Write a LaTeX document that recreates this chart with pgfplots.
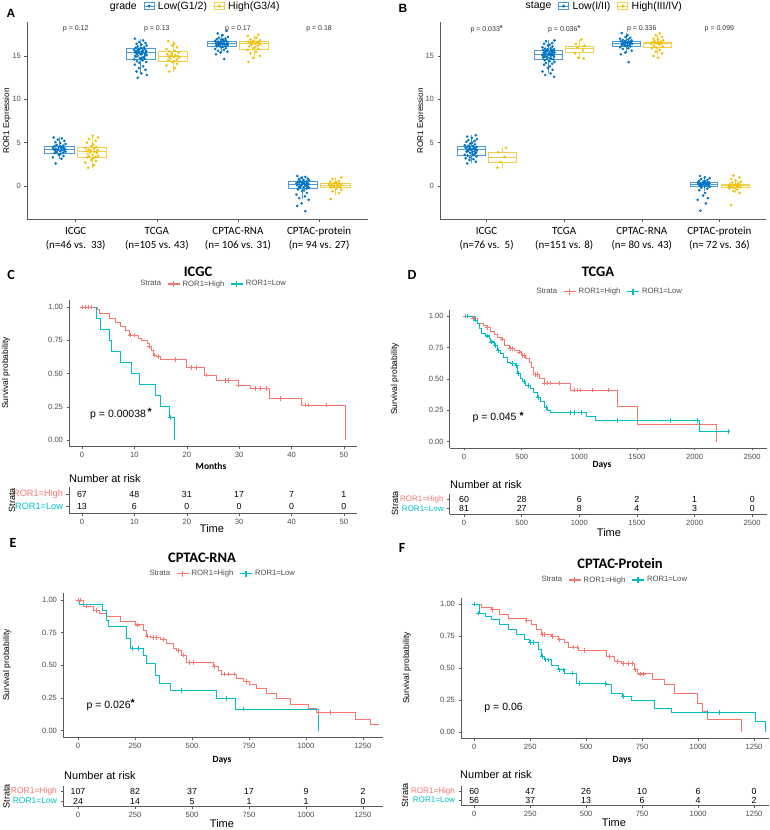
\documentclass[border=0pt]{standalone}
\usepackage{fontspec}
\setmainfont{Liberation Sans}
\newfontfamily\cali{Carlito}
\usepackage{pgfplots}
\pgfplotsset{compat=1.18}
\usepgfplotslibrary{statistics}
\definecolor{jblue}{HTML}{0073C2}
\definecolor{jyel}{HTML}{EFC000}
\definecolor{bblue}{HTML}{4A9BDA}
\definecolor{byel}{HTML}{F2CF4A}
\definecolor{kmred}{HTML}{F8766D}
\definecolor{kmcyan}{HTML}{00BFC4}
\definecolor{axgray}{HTML}{5A5A5A}
\definecolor{tgray}{HTML}{4D4D4D}
\definecolor{ptext}{HTML}{333333}
\newcommand{\fs}[2]{\fontsize{#1}{#2}\selectfont}

\pgfplotsset{
  gg/.style={scale only axis, clip=false, anchor=south west,
    axis x line*=bottom, axis y line*=left,
    axis line style={draw=axgray, line width=0.6pt},
    tick style={draw=axgray, line width=0.5pt}, major tick length=2.5pt, tick align=outside,
    ticklabel style={font=\fs{7.6}{9}, text=tgray},
    /pgf/number format/assume math mode=true, /pgf/number format/1000 sep={}, scaled ticks=false},
  bxax/.style={gg, height=197pt, xmin=0.4, xmax=4.6, ymin=-3.81, ymax=18.92,
    xtick={1,2,3,4}, ytick={0,5,10,15},
    xticklabel style={font=\cali\fs{11}{14}, text=black, align=center, yshift=-2pt},
    legend style={draw=none, fill=none, legend columns=-1, font=\fs{10.5}{12}, anchor=center,
      /tikz/every odd column/.append style={column sep=1.5pt},
      /tikz/every even column/.append style={column sep=5pt}}},
  kmax/.style={gg, ymin=-0.05, ymax=1.05, ytick={0,0.25,0.5,0.75,1},
    yticklabels={0.00,0.25,0.50,0.75,1.00},
    legend style={draw=none, fill=none, legend columns=-1, font=\fs{7.7}{9}, text=tgray, anchor=center,
      /tikz/every odd column/.append style={column sep=0.5pt},
      /tikz/every even column/.append style={column sep=4pt}}},
  rtax/.style={gg, ymin=0.4, ymax=2.6, ytick={1,2},
    yticklabels={\textcolor{kmcyan}{ROR1=Low},\textcolor{kmred}{ROR1=High}}},
  bkey/.style 2 args={legend image code/.code={\draw[#1,line width=0.7pt] (0pt,-3.3pt) rectangle (10pt,3.3pt) (0pt,0pt) -- (10pt,0pt); \fill[#2] (5pt,0pt) circle (1.3pt);}},
  kred/.style={legend image code/.code={\draw[kmred,line width=1.1pt] (0pt,0pt) -- (12pt,0pt) (6pt,-2.8pt) -- (6pt,2.8pt);}},
  kcyan/.style={legend image code/.code={\draw[kmcyan,line width=1.1pt] (0pt,0pt) -- (12pt,0pt) (6pt,-2.8pt) -- (6pt,2.8pt);}},
  rnum/.style={draw=none, mark=none, forget plot, nodes near coords, point meta=explicit symbolic,
    every node near coord/.append style={anchor=center, font=\fs{8.8}{9}, text=black, inner sep=0pt}},
}

% jittered points: position, colour, rows "dx value"
\newcommand{\jit}[3]{\addplot[only marks, mark=*, mark size=1.1pt, #2, forget plot]
  table[row sep=\\, x expr=\thisrow{d}+#1, y=v] {d v\\ #3};}
% box: position, colour, whisker low, q1, median, q3, whisker high
\newcommand{\bx}[7]{\addplot[#2, line width=0.8pt, forget plot, boxplot prepared={draw direction=y, draw position=#1,
  lower whisker=#3, lower quartile=#4, median=#5, upper quartile=#6, upper whisker=#7,
  box extend=0.36, whisker extend=0}] coordinates {};}
\newcommand{\km}[2]{\addplot[const plot, #1, line width=0.85pt, forget plot] coordinates {#2};}
\newcommand{\cens}[2]{\addplot[only marks, mark=+, mark size=2.3pt, #1, mark options={line width=0.7pt}, forget plot] coordinates {#2};}
\newcommand{\kmleg}{\addlegendimage{empty legend}\addlegendentry{Strata}
  \addlegendimage{kred}\addlegendentry{ROR1=High}
  \addlegendimage{kcyan}\addlegendentry{ROR1=Low}}

\begin{document}
\begin{tikzpicture}
\path[use as bounding box] (0pt,0pt) rectangle (769pt,-830pt);

%%%%%%%%%%%%%%%% A
\begin{axis}[bxax, at={(27pt,-219pt)}, width=340.8pt,
  xticklabels={{ICGC\\(n=46 vs.\ \ 33)},{TCGA\\(n=105 vs. 43)},{CPTAC-RNA\\(n= 106 vs. 31)},{CPTAC-protein\\(n= 94 vs. 27)}},
  legend style={at={(0.49,1.081)}}]
\addlegendimage{empty legend}\addlegendentry{grade}
\addlegendimage{bkey={bblue}{jblue}}\addlegendentry{Low(G1/2)}
\addlegendimage{bkey={byel}{jyel}}\addlegendentry{High(G3/4)}
\bx{0.8}{bblue}{3.1}{3.8}{4.2}{4.58}{5.6}
\bx{1.2}{byel}{2.1}{3.35}{4.0}{4.5}{5.8}
\bx{1.8}{bblue}{12.9}{14.6}{15.4}{15.85}{17.0}
\bx{2.2}{byel}{13.2}{14.4}{15.0}{15.5}{16.7}
\bx{2.8}{bblue}{15.4}{16.15}{16.4}{16.7}{17.5}
\bx{3.2}{byel}{14.6}{15.8}{16.45}{16.65}{17.45}
\bx{3.8}{bblue}{-1.5}{-0.3}{0.2}{0.54}{1.15}
\bx{4.2}{byel}{-1.0}{-0.2}{0.04}{0.35}{1.0}
\jit{0.8}{jblue}{-0.07 5.6\\ 0.03 5.5\\ -0.02 5.35\\ 0.06 5.2\\ -0.05 5.05\\ 0.01 4.95\\ 0.075 4.85\\ -0.035 4.75\\ 0.045 4.65\\ -0.06 4.6\\ 0.015 4.55\\ -0.01 4.5\\ 0.05 4.45\\ -0.08 4.4\\ 0.025 4.35\\ -0.045 4.3\\ 0.07 4.28\\ -0.015 4.25\\ -0.07 4.2\\ 0.03 4.15\\ -0.02 4.12\\ 0.06 4.1\\ -0.05 4.05\\ 0.01 4.0\\ 0.075 3.95\\ -0.035 3.9\\ 0.045 3.85\\ -0.06 3.8\\ 0.015 3.7\\ -0.01 3.6\\ 0.05 3.45\\ -0.08 3.3\\ 0.025 3.15\\ -0.045 2.6\\}
\jit{1.2}{jyel}{0.01 5.8\\ 0.075 5.6\\ -0.035 5.4\\ 0.045 5.2\\ -0.06 5.0\\ 0.015 4.8\\ -0.01 4.6\\ 0.05 4.5\\ -0.08 4.4\\ 0.025 4.3\\ -0.045 4.2\\ 0.07 4.15\\ -0.015 4.1\\ -0.07 4.0\\ 0.03 3.95\\ -0.02 3.9\\ 0.06 3.8\\ -0.05 3.7\\ 0.01 3.6\\ 0.075 3.5\\ -0.035 3.4\\ 0.045 3.35\\ -0.06 3.3\\ 0.015 3.2\\ -0.01 3.0\\ 0.05 2.9\\ -0.08 2.7\\ 0.025 2.4\\ -0.045 2.1\\}
\jit{1.8}{jblue}{-0.07 17.0\\ 0.03 16.8\\ -0.02 16.6\\ 0.06 16.5\\ -0.05 16.4\\ 0.01 16.3\\ 0.075 16.2\\ -0.035 16.1\\ 0.045 16.0\\ -0.06 15.95\\ 0.015 15.9\\ -0.01 15.85\\ 0.05 15.8\\ -0.08 15.7\\ 0.025 15.65\\ -0.045 15.6\\ 0.07 15.55\\ -0.015 15.5\\ -0.07 15.45\\ 0.03 15.4\\ -0.02 15.35\\ 0.06 15.3\\ -0.05 15.25\\ 0.01 15.2\\ 0.075 15.1\\ -0.035 15.0\\ 0.045 14.95\\ -0.06 14.9\\ 0.015 14.8\\ -0.01 14.75\\ 0.05 14.7\\ -0.08 14.6\\ 0.025 14.5\\ -0.045 14.4\\ 0.07 14.3\\ -0.015 14.2\\ -0.07 14.0\\ 0.03 13.8\\ -0.02 13.6\\ 0.06 13.4\\ -0.05 13.2\\ 0.01 13.0\\ 0.075 12.8\\ -0.035 12.5\\ 0.02 15.5\\ -0.04 15.3\\ 0.065 15.6\\ -0.065 15.0\\ 0.0 15.2\\ 0.035 14.85\\ -0.025 15.75\\ 0.055 15.15\\ -0.055 15.55\\ 0.005 14.65\\}
\jit{2.2}{jyel}{-0.06 16.7\\ 0.015 16.4\\ -0.01 16.2\\ 0.05 16.0\\ -0.08 15.8\\ 0.025 15.6\\ -0.045 15.5\\ 0.07 15.4\\ -0.015 15.3\\ -0.07 15.2\\ 0.03 15.1\\ -0.02 15.05\\ 0.06 15.0\\ -0.05 14.95\\ 0.01 14.9\\ 0.075 14.8\\ -0.035 14.7\\ 0.045 14.6\\ -0.06 14.5\\ 0.015 14.4\\ -0.01 14.3\\ 0.05 14.1\\ -0.08 13.9\\ 0.025 13.6\\ -0.045 13.2\\}
\jit{2.8}{jblue}{0.06 17.9\\ -0.05 17.6\\ 0.01 17.4\\ 0.075 17.2\\ -0.035 17.1\\ 0.045 17.0\\ -0.06 16.95\\ 0.015 16.9\\ -0.01 16.85\\ 0.05 16.8\\ -0.08 16.75\\ 0.025 16.7\\ -0.045 16.65\\ 0.07 16.6\\ -0.015 16.55\\ -0.07 16.5\\ 0.03 16.45\\ -0.02 16.4\\ 0.06 16.4\\ -0.05 16.35\\ 0.01 16.3\\ 0.075 16.25\\ -0.035 16.2\\ 0.045 16.15\\ -0.06 16.1\\ 0.015 16.05\\ -0.01 16.0\\ 0.05 15.9\\ -0.08 15.8\\ 0.025 15.7\\ -0.045 15.6\\ 0.07 15.5\\ -0.015 15.4\\ -0.07 15.2\\ 0.03 14.65\\ 0.0 16.5\\ 0.04 16.35\\ -0.04 16.6\\ 0.065 16.45\\ -0.065 16.25\\ 0.02 16.7\\ -0.025 16.3\\}
\jit{3.2}{jyel}{0.05 17.45\\ -0.08 17.3\\ 0.025 17.1\\ -0.045 16.9\\ 0.07 16.8\\ -0.015 16.7\\ -0.07 16.65\\ 0.03 16.6\\ -0.02 16.55\\ 0.06 16.5\\ -0.05 16.45\\ 0.01 16.4\\ 0.075 16.35\\ -0.035 16.3\\ 0.045 16.2\\ -0.06 16.1\\ 0.015 16.0\\ -0.01 15.9\\ 0.05 15.8\\ -0.08 15.7\\ 0.025 15.5\\ -0.045 15.3\\ 0.07 15.0\\ -0.015 14.8\\ -0.07 14.3\\}
\jit{3.8}{jblue}{-0.07 1.15\\ 0.03 1.05\\ -0.02 0.95\\ 0.06 0.85\\ -0.05 0.8\\ 0.01 0.7\\ 0.075 0.65\\ -0.035 0.6\\ 0.045 0.55\\ -0.06 0.5\\ 0.015 0.45\\ -0.01 0.4\\ 0.05 0.35\\ -0.08 0.3\\ 0.025 0.25\\ -0.045 0.2\\ 0.07 0.2\\ -0.015 0.15\\ -0.07 0.1\\ 0.03 0.05\\ -0.02 0.0\\ 0.06 -0.05\\ -0.05 -0.1\\ 0.01 -0.15\\ 0.075 -0.2\\ -0.035 -0.25\\ 0.045 -0.3\\ -0.06 -0.4\\ 0.015 -0.5\\ -0.01 -0.6\\ 0.05 -0.8\\ -0.08 -1.0\\ 0.025 -1.2\\ -0.045 -1.4\\ 0.07 -1.6\\ -0.015 -2.0\\ -0.07 -2.3\\ 0.03 -2.9\\ 0.0 0.3\\ 0.04 0.1\\ -0.04 0.45\\ 0.065 0.25\\ -0.03 -0.05\\}
\jit{4.2}{jyel}{0.075 1.0\\ -0.035 0.8\\ 0.045 0.6\\ -0.06 0.5\\ 0.015 0.4\\ -0.01 0.35\\ 0.05 0.3\\ -0.08 0.25\\ 0.025 0.2\\ -0.045 0.15\\ 0.07 0.1\\ -0.015 0.05\\ -0.07 0.0\\ 0.03 -0.05\\ -0.02 -0.1\\ 0.06 -0.15\\ -0.05 -0.2\\ 0.01 -0.3\\ 0.075 -0.45\\ -0.035 -0.6\\ 0.045 -0.8\\ -0.06 -1.5\\}
\node[font=\fs{7}{8}, text=ptext] at (axis cs:1,18.1) {p = 0.12};
\node[font=\fs{7}{8}, text=ptext] at (axis cs:2,18.1) {p = 0.13};
\node[font=\fs{7}{8}, text=ptext] at (axis cs:3,18.1) {p = 0.17};
\node[font=\fs{7}{8}, text=ptext] at (axis cs:4,18.1) {p = 0.18};
\end{axis}

%%%%%%%%%%%%%%%% B
\begin{axis}[bxax, at={(440pt,-219pt)}, width=326pt,
  xticklabels={{ICGC\\(n=76 vs.\ \ 5)},{TCGA\\(n=151 vs. 8)},{CPTAC-RNA\\(n= 80 vs. 43)},{CPTAC-protein\\(n= 72 vs. 36)}},
  legend style={at={(0.5,1.081)}}]
\addlegendimage{empty legend}\addlegendentry{stage}
\addlegendimage{bkey={bblue}{jblue}}\addlegendentry{Low(I/II)}
\addlegendimage{bkey={byel}{jyel}}\addlegendentry{High(III/IV)}
\bx{0.8}{bblue}{2.6}{3.54}{4.2}{4.58}{5.85}
\bx{1.2}{byel}{2.1}{2.77}{3.27}{3.9}{4.4}
\bx{1.8}{bblue}{13.0}{14.6}{15.2}{15.7}{16.8}
\bx{2.2}{byel}{14.7}{15.45}{15.85}{16.15}{16.9}
\bx{2.8}{bblue}{15.3}{16.1}{16.5}{16.7}{17.6}
\bx{3.2}{byel}{15.1}{16.0}{16.5}{16.6}{17.4}
\bx{3.8}{bblue}{-0.6}{-0.04}{0.23}{0.38}{1.0}
\bx{4.2}{byel}{-0.8}{-0.19}{0.04}{0.23}{0.8}
\jit{0.8}{jblue}{0.06 5.85\\ -0.05 5.7\\ 0.01 5.55\\ 0.075 5.4\\ -0.035 5.3\\ 0.045 5.2\\ -0.06 5.1\\ 0.015 5.0\\ -0.01 4.9\\ 0.05 4.8\\ -0.08 4.7\\ 0.025 4.6\\ -0.045 4.55\\ 0.07 4.5\\ -0.015 4.45\\ -0.07 4.4\\ 0.03 4.35\\ -0.02 4.3\\ 0.06 4.25\\ -0.05 4.2\\ 0.01 4.15\\ 0.075 4.1\\ -0.035 4.05\\ 0.045 4.0\\ -0.06 3.95\\ 0.015 3.9\\ -0.01 3.8\\ 0.05 3.7\\ -0.08 3.6\\ 0.025 3.55\\ -0.045 3.5\\ 0.07 3.4\\ -0.015 3.3\\ -0.07 3.2\\ 0.03 3.1\\ -0.02 3.0\\ 0.06 2.8\\ -0.05 2.6\\ 0.0 4.2\\ 0.04 4.4\\ -0.04 4.0\\ 0.065 3.85\\ -0.025 4.65\\ 0.02 3.65\\}
\jit{1.2}{jyel}{0.05 4.4\\ -0.05 3.9\\ 0.03 3.35\\ -0.02 2.77\\ -0.06 2.1\\}
\jit{1.8}{jblue}{0.075 16.8\\ -0.035 16.7\\ 0.045 16.5\\ -0.06 16.4\\ 0.015 16.3\\ -0.01 16.2\\ 0.05 16.1\\ -0.08 16.0\\ 0.025 15.9\\ -0.045 15.85\\ 0.07 15.8\\ -0.015 15.75\\ -0.07 15.7\\ 0.03 15.65\\ -0.02 15.6\\ 0.06 15.55\\ -0.05 15.5\\ 0.01 15.45\\ 0.075 15.4\\ -0.035 15.35\\ 0.045 15.3\\ -0.06 15.25\\ 0.015 15.2\\ -0.01 15.15\\ 0.05 15.1\\ -0.08 15.05\\ 0.025 15.0\\ -0.045 14.95\\ 0.07 14.9\\ -0.015 14.85\\ -0.07 14.8\\ 0.03 14.7\\ -0.02 14.65\\ 0.06 14.6\\ -0.05 14.5\\ 0.01 14.4\\ 0.075 14.3\\ -0.035 14.2\\ 0.045 14.1\\ -0.06 14.0\\ 0.015 13.8\\ -0.01 13.6\\ 0.05 13.4\\ -0.08 13.2\\ 0.025 13.0\\ -0.045 12.8\\ 0.07 12.6\\ 0.0 15.2\\ 0.04 15.5\\ -0.04 15.0\\ 0.065 15.15\\ -0.065 15.35\\ 0.02 14.75\\ -0.025 15.6\\ 0.035 15.25\\ -0.055 14.9\\ 0.055 15.7\\}
\jit{2.2}{jyel}{0.02 16.9\\ -0.05 16.4\\ 0.06 16.2\\ -0.03 16.0\\ 0.04 15.65\\ -0.06 15.3\\ -0.02 14.8\\ 0.05 14.7\\}
\jit{2.8}{jblue}{-0.06 17.65\\ 0.015 17.4\\ -0.01 17.2\\ 0.05 17.1\\ -0.08 17.0\\ 0.025 16.9\\ -0.045 16.85\\ 0.07 16.8\\ -0.015 16.75\\ -0.07 16.7\\ 0.03 16.65\\ -0.02 16.6\\ 0.06 16.55\\ -0.05 16.5\\ 0.01 16.45\\ 0.075 16.4\\ -0.035 16.35\\ 0.045 16.3\\ -0.06 16.25\\ 0.015 16.2\\ -0.01 16.15\\ 0.05 16.1\\ -0.08 16.0\\ 0.025 15.9\\ -0.045 15.8\\ 0.07 15.6\\ -0.015 15.4\\ -0.07 15.2\\ 0.03 14.3\\ 0.0 16.5\\ 0.04 16.6\\ -0.04 16.4\\ 0.065 16.7\\ -0.025 16.3\\ 0.02 16.55\\}
\jit{3.2}{jyel}{0.03 17.6\\ -0.02 17.4\\ 0.06 17.2\\ -0.05 17.0\\ 0.01 16.9\\ 0.075 16.8\\ -0.035 16.7\\ 0.045 16.65\\ -0.06 16.6\\ 0.015 16.55\\ -0.01 16.5\\ 0.05 16.45\\ -0.08 16.4\\ 0.025 16.3\\ -0.045 16.2\\ 0.07 16.1\\ -0.015 16.0\\ -0.07 15.9\\ 0.03 15.7\\ -0.02 15.5\\ 0.06 15.3\\ -0.05 15.0\\ 0.01 14.8\\}
\jit{3.8}{jblue}{-0.05 1.15\\ 0.01 1.0\\ 0.075 0.9\\ -0.035 0.8\\ 0.045 0.7\\ -0.06 0.6\\ 0.015 0.55\\ -0.01 0.5\\ 0.05 0.45\\ -0.08 0.4\\ 0.025 0.35\\ -0.045 0.3\\ 0.07 0.28\\ -0.015 0.25\\ -0.07 0.2\\ 0.03 0.15\\ -0.02 0.1\\ 0.06 0.05\\ -0.05 0.0\\ 0.01 -0.05\\ 0.075 -0.1\\ -0.035 -0.2\\ 0.045 -0.3\\ -0.06 -0.5\\ 0.015 -0.8\\ -0.01 -1.1\\ 0.05 -1.4\\ -0.08 -1.6\\ 0.025 -2.0\\ -0.045 -2.85\\ 0.0 0.3\\ 0.04 0.2\\ -0.04 0.1\\ 0.065 0.4\\}
\jit{4.2}{jyel}{-0.02 1.2\\ 0.06 1.0\\ -0.05 0.8\\ 0.01 0.6\\ 0.075 0.5\\ -0.035 0.4\\ 0.045 0.3\\ -0.06 0.2\\ 0.015 0.15\\ -0.01 0.1\\ 0.05 0.05\\ -0.08 0.0\\ 0.025 -0.05\\ -0.045 -0.1\\ 0.07 -0.15\\ -0.015 -0.2\\ -0.07 -0.3\\ 0.03 -0.4\\ -0.02 -0.6\\ 0.06 -0.8\\ -0.05 -2.2\\}
\node[font=\fs{7}{8}, text=ptext] at (axis cs:1,18.1) {p = 0.033\raisebox{1.5pt}{\textbf{*}}};
\node[font=\fs{7}{8}, text=ptext] at (axis cs:2,18.1) {p = 0.036\raisebox{1.5pt}{\textbf{*}}};
\node[font=\fs{7}{8}, text=ptext] at (axis cs:3,18.1) {p = 0.336};
\node[font=\fs{7}{8}, text=ptext] at (axis cs:4,18.1) {p = 0.099};
\end{axis}

%%%%%%%%%%%%%%%% C
\begin{axis}[kmax, at={(69pt,-446.65pt)}, width=288pt, height=146.3pt, xmin=-2.48, xmax=52.5,
  xtick={0,10,...,50}, legend style={at={(0.5,1.112)}}]
\kmleg
\km{kmred}{(0,1) (3.0,0.982) (3.4,0.952) (5.2,0.915) (6.3,0.882) (7.25,0.857) (8.2,0.827) (9.0,0.789) (10.75,0.764) (11.4,0.752) (12.5,0.727) (12.85,0.702) (13.3,0.677) (13.6,0.639) (14.25,0.627) (14.9,0.606) (19.85,0.546) (23.3,0.489) (25.7,0.446) (29.8,0.414) (32.1,0.388) (35.75,0.313) (41.8,0.263) (50.2,0)}
\km{kmcyan}{(0,1) (2.8,0.917) (3.6,0.833) (5.2,0.75) (5.7,0.667) (7.4,0.583) (9.5,0.5) (10.9,0.417) (14.1,0.333) (15.0,0.25) (16.7,0.167) (17.7,0)}
\cens{kmred}{(0,1) (0.6,1) (1.2,1) (1.8,1) (9.3,0.789) (10.0,0.789) (12.9,0.702) (13.9,0.639) (14.5,0.627) (17.9,0.606) (20.9,0.546) (21.9,0.546) (23.8,0.489) (27.3,0.446) (27.9,0.446) (29.9,0.414) (33.0,0.388) (34.1,0.388) (35.2,0.388) (37.8,0.313) (42.6,0.263) (43.2,0.263) (46.7,0.263)}
\cens{kmcyan}{(16.9,0.167)}
\node[anchor=west, font=\fs{10.5}{12}] at (axis cs:0.9,0.195) {p = 0.00038\,\raisebox{1.5pt}{\textbf{*}}};
\end{axis}
\begin{axis}[rtax, at={(69pt,-513.2pt)}, width=288pt, height=26.4pt, xmin=-2.48, xmax=52.5, xtick={0,10,...,50},
  yticklabel style={font=\fs{9.2}{10}}]
\addplot[rnum] coordinates {(0,2)[67] (10,2)[48] (20,2)[31] (30,2)[17] (40,2)[7] (50,2)[1] (0,1)[13] (10,1)[6] (20,1)[0] (30,1)[0] (40,1)[0] (50,1)[0]};
\end{axis}

%%%%%%%%%%%%%%%% D
\begin{axis}[kmax, at={(449.6pt,-447.8pt)}, width=317pt, height=138.05pt, xmin=-125, xmax=2625,
  xtick={0,500,...,2500}, legend style={at={(0.503,1.13)}}]
\kmleg
\km{kmred}{(0,1) (72,0.981) (116,0.941) (168,0.922) (202,0.906) (231,0.874) (260,0.853) (289,0.826) (324,0.816) (347,0.767) (390,0.741) (434,0.727) (477,0.714) (497,0.687) (535,0.660) (564,0.634) (584,0.594) (601,0.535) (650,0.50) (694,0.465) (919,0.41) (1329,0.278) (1503,0.134) (2191,0)}
\km{kmcyan}{(0,1) (87,0.968) (116,0.94) (130,0.9) (150,0.86) (188,0.842) (217,0.82) (231,0.794) (260,0.767) (289,0.727) (318,0.70) (341,0.674) (376,0.634) (405,0.62) (448,0.607) (462,0.54) (486,0.505) (506,0.479) (535,0.447) (572,0.42) (601,0.393) (636,0.353) (665,0.318) (699,0.273) (723,0.246) (746,0.233) (1064,0.2) (1142,0.166) (2038,0.08) (2290,0.08)}
\cens{kmred}{(15,1) (80,0.981) (101,0.981) (202,0.906) (330,0.816) (405,0.741) (420,0.741) (480,0.714) (510,0.687) (525,0.687) (621,0.535) (640,0.535) (700,0.465) (725,0.465) (750,0.465) (824,0.465) (954,0.41) (980,0.41) (1012,0.41) (1113,0.41) (1251,0.41)}
\cens{kmcyan}{(30,1) (101,0.968) (200,0.842) (240,0.794) (275,0.767) (300,0.727) (420,0.62) (455,0.607) (470,0.54) (520,0.479) (560,0.447) (645,0.353) (710,0.273) (920,0.233) (960,0.233) (1020,0.233) (1330,0.166) (1790,0.166) (2020,0.166) (2290,0.08)}
\node[anchor=west, font=\fs{10.5}{12}] at (axis cs:43,0.193) {p = 0.045 \raisebox{1.5pt}{\textbf{*}}};
\end{axis}
\begin{axis}[rtax, at={(449.6pt,-514pt)}, width=317pt, height=19.8pt, xmin=-125, xmax=2625, xtick={0,500,...,2500},
  yticklabel style={font=\fs{8}{9}}]
\addplot[rnum] coordinates {(0,2)[60] (500,2)[28] (1000,2)[6] (1500,2)[2] (2000,2)[1] (2500,2)[0] (0,1)[81] (500,1)[27] (1000,1)[8] (1500,1)[4] (2000,1)[3] (2500,1)[0]};
\end{axis}

%%%%%%%%%%%%%%%% E
\begin{axis}[kmax, at={(63pt,-737.2pt)}, width=320pt, height=143.8pt, xmin=-66, xmax=1338,
  xtick={0,250,...,1250}, legend style={at={(0.497,1.136)}}]
\kmleg
\km{kmred}{(0,1) (23,0.954) (67,0.918) (96,0.898) (126,0.872) (184,0.834) (250,0.809) (287,0.77) (301,0.724) (316,0.714) (360,0.699) (389,0.668) (418,0.63) (433,0.612) (455,0.579) (477,0.52) (594,0.49) (615,0.464) (630,0.434) (696,0.4) (725,0.375) (754,0.35) (784,0.324) (827,0.286) (871,0.247) (930,0.204) (1010,0.171) (1047,0.138) (1215,0.087) (1281,0.044) (1320,0.044)}
\km{kmcyan}{(0,1) (6,0.962) (108,0.918) (123,0.847) (133,0.796) (213,0.707) (228,0.63) (287,0.579) (301,0.515) (338,0.426) (357,0.362) (406,0.306) (608,0.247) (689,0.166) (1054,0)}
\cens{kmred}{(3,1) (8,1) (35,0.954) (80,0.918) (260,0.809) (305,0.724) (330,0.714) (345,0.714) (375,0.699) (440,0.612) (460,0.579) (490,0.52) (505,0.52) (600,0.49) (640,0.434) (660,0.434) (685,0.434) (740,0.375) (1054,0.138) (1105,0.138)}
\cens{kmcyan}{(240,0.63) (265,0.63) (455,0.306) (650,0.247) (725,0.166)}
\node[anchor=west, font=\fs{10.5}{12}] at (axis cs:22,0.197) {p = 0.026\raisebox{1.5pt}{\textbf{*}}};
\end{axis}
\begin{axis}[rtax, at={(63pt,-806.6pt)}, width=320pt, height=20.5pt, xmin=-66, xmax=1338, xtick={0,250,...,1250},
  yticklabel style={font=\fs{8.5}{9}}]
\addplot[rnum] coordinates {(0,2)[107] (250,2)[82] (500,2)[37] (750,2)[17] (1000,2)[9] (1250,2)[2] (0,1)[24] (250,1)[14] (500,1)[5] (750,1)[1] (1000,1)[1] (1250,1)[0]};
\end{axis}

%%%%%%%%%%%%%%%% F
\begin{axis}[kmax, at={(461pt,-738.4pt)}, width=308pt, height=140.8pt, xmin=-59, xmax=1317,
  xtick={0,250,...,1250}, legend style={at={(0.497,1.125)}}]
\kmleg
\km{kmred}{(0,1) (33,0.976) (77,0.955) (114,0.916) (152,0.89) (233,0.872) (256,0.838) (278,0.8) (300,0.76) (345,0.747) (374,0.72) (404,0.70) (419,0.663) (464,0.637) (590,0.59) (627,0.551) (657,0.533) (716,0.486) (731,0.454) (798,0.407) (850,0.368) (895,0.30) (998,0.22) (1020,0.16) (1040,0.10) (1192,0)}
\km{kmcyan}{(0,1) (25,0.93) (48,0.903) (77,0.877) (114,0.838) (152,0.8) (189,0.76) (226,0.726) (248,0.70) (285,0.642) (300,0.59) (315,0.564) (345,0.517) (374,0.486) (404,0.46) (456,0.381) (590,0.368) (612,0.303) (664,0.277) (701,0.25) (805,0.185) (880,0.151) (1258,0.08) (1300,0)}
\cens{kmred}{(0,1) (80,0.955) (235,0.872) (305,0.76) (315,0.76) (350,0.747) (380,0.72) (445,0.663) (460,0.663) (490,0.637) (605,0.59) (640,0.551) (665,0.533) (690,0.533) (705,0.533) (720,0.486) (740,0.454) (755,0.454)}
\cens{kmcyan}{(0,1) (20,0.93) (250,0.70) (265,0.70) (305,0.59) (320,0.564) (330,0.564) (380,0.486) (400,0.486) (440,0.46) (470,0.381) (585,0.381) (665,0.277) (1043,0.151) (1095,0.151)}
\node[anchor=west, font=\fs{10.5}{12}] at (axis cs:30,0.19) {p = 0.06};
\end{axis}
\begin{axis}[rtax, at={(461pt,-805.4pt)}, width=308pt, height=19.8pt, xmin=-59, xmax=1317, xtick={0,250,...,1250},
  yticklabel style={font=\fs{8.1}{9}}]
\addplot[rnum] coordinates {(0,2)[60] (250,2)[47] (500,2)[26] (750,2)[10] (1000,2)[6] (1250,2)[0] (0,1)[56] (250,1)[37] (500,1)[13] (750,1)[6] (1000,1)[4] (1250,1)[2]};
\end{axis}

%%%%%%%%%%%%%%%% labels and titles
\node[font=\bfseries\fs{12}{13}] at (11pt,-13pt) {A};
\node[font=\bfseries\fs{12}{13}] at (403pt,-8pt) {B};
\node[font=\cali\bfseries\fs{14}{15}] at (11pt,-275pt) {C};
\node[font=\cali\bfseries\fs{14}{15}] at (412pt,-275pt) {D};
\node[font=\cali\bfseries\fs{14}{15}] at (13pt,-543pt) {E};
\node[font=\cali\bfseries\fs{14}{15}] at (402pt,-548pt) {F};
\node[rotate=90, font=\fs{8.2}{9}] at (7pt,-121pt) {ROR1 Expression};
\node[rotate=90, font=\fs{8.2}{9}] at (421pt,-121pt) {ROR1 Expression};
\node[font=\cali\bfseries\fs{14.5}{16}] at (198pt,-271.5pt) {ICGC};
\node[font=\cali\bfseries\fs{14.5}{16}] at (598pt,-272pt) {TCGA};
\node[font=\cali\bfseries\fs{14.5}{16}] at (202pt,-558pt) {CPTAC-RNA};
\node[font=\cali\bfseries\fs{14.5}{16}] at (620pt,-563.5pt) {CPTAC-Protein};
\node[rotate=90, font=\fs{8.5}{9}] at (6pt,-373pt) {Survival probability};
\node[rotate=90, font=\fs{8.5}{9}] at (395pt,-379pt) {Survival probability};
\node[rotate=90, font=\fs{8.5}{9}] at (7pt,-665pt) {Survival probability};
\node[rotate=90, font=\fs{8.5}{9}] at (407pt,-668pt) {Survival probability};
\node[font=\cali\bfseries\fs{9.5}{10}] at (211pt,-466pt) {Months};
\node[font=\cali\bfseries\fs{9.5}{10}] at (602pt,-465pt) {Days};
\node[font=\cali\bfseries\fs{9.5}{10}] at (222pt,-760pt) {Days};
\node[font=\cali\bfseries\fs{9.5}{10}] at (622pt,-760pt) {Days};
\node[anchor=west, inner xsep=0pt, font=\fs{11}{12}] at (69pt,-479pt) {Number at risk};
\node[anchor=west, inner xsep=0pt, font=\fs{11}{12}] at (450pt,-485pt) {Number at risk};
\node[anchor=west, inner xsep=0pt, font=\fs{11}{12}] at (64pt,-776pt) {Number at risk};
\node[anchor=west, inner xsep=0pt, font=\fs{11}{12}] at (460pt,-775pt) {Number at risk};
\node[rotate=90, font=\fs{9}{10}] at (12pt,-500pt) {Strata};
\node[rotate=90, font=\fs{9}{10}] at (395pt,-503pt) {Strata};
\node[rotate=90, font=\fs{9}{10}] at (6.5pt,-796pt) {Strata};
\node[rotate=90, font=\fs{9}{10}] at (405pt,-795pt) {Strata};
\node[font=\fs{11}{12}] at (212pt,-529pt) {Time};
\node[font=\fs{11}{12}] at (609pt,-532.5pt) {Time};
\node[font=\fs{11}{12}] at (222pt,-823.5pt) {Time};
\node[font=\fs{11}{12}] at (614pt,-822.5pt) {Time};
\end{tikzpicture}
\end{document}
